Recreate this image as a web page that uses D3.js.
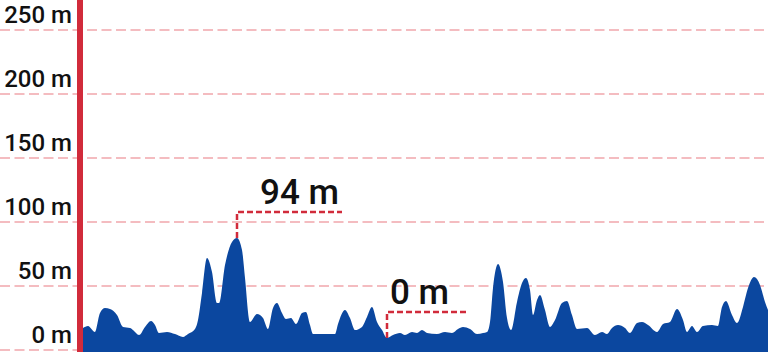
<!DOCTYPE html>
<html>
<head>
<meta charset="utf-8">
<script src="https://cdn.jsdelivr.net/npm/d3@7"></script>
<style>
  body { margin: 0; background: #fff; }
  svg { display: block; font-family: Roboto, "Noto Sans", sans-serif; }
</style>
</head>
<body>
<svg id="profile" width="768" height="352"></svg>
<script>
// distance along route (km) and elevation (m)
var distance = [0, 0.5, 1.2, 1.7, 2.2, 2.7, 3.4, 4.0, 4.7, 5.0, 5.6, 6.2, 6.8, 7.2, 7.6, 8.4, 9.2, 10.0, 10.5, 11.2,
  11.5, 11.9, 12.4, 12.9, 13.4, 13.6, 14.2, 14.9, 15.4, 15.9, 16.2, 16.7, 17.4, 18.0, 18.5, 19.0, 19.4, 19.9, 20.3, 20.8,
  21.3, 21.9, 22.3, 22.7, 23.0, 24.4, 25.2, 25.5, 26.2, 26.7, 27.2, 27.9, 28.4, 28.9, 29.4, 29.9, 30.4, 31.0, 31.7, 32.2,
  32.9, 33.4, 33.9, 34.4, 35.4, 36.2, 36.9, 37.5, 38.0, 38.7, 39.4, 40.0, 40.4, 40.7, 41.0, 41.5, 42.0, 42.4, 42.8, 43.4,
  43.9, 44.3, 44.7, 45.0, 45.4, 45.7, 46.2, 46.7, 47.2, 47.9, 48.4, 48.9, 49.4, 50.4, 51.2, 51.9, 52.4, 52.9, 53.5, 54.2,
  54.7, 55.4, 55.9, 56.5, 57.4, 58.0, 58.7, 59.4, 60.0, 60.4, 60.9, 61.4, 62.0, 62.9, 63.5, 63.9, 64.3, 64.9, 65.4, 66.0,
  66.5, 67.1, 67.7, 68.2, 68.5];
var elevation = [17.2, 18.8, 14.1, 28.9, 32.8, 32.0, 27.3, 18.0, 17.2, 15.6, 11.7, 18.0, 22.7, 19.5, 13.3, 14.1, 12.5, 10.2, 12.5, 16.4,
  23.4, 44.5, 71.9, 60.9, 36.7, 36.7, 66.4, 84.4, 87.5, 78.1, 56.3, 21.9, 28.1, 25.0, 16.4, 32.8, 36.7, 28.9, 24.2, 25.0,
  20.3, 28.9, 29.7, 19.5, 12.5, 12.5, 12.5, 20.3, 31.3, 25.0, 15.6, 18.0, 25.8, 33.6, 21.9, 15.6, 9.4, 11.7, 13.3, 11.7,
  14.1, 13.3, 15.6, 13.3, 12.5, 14.1, 13.3, 16.4, 18.0, 16.4, 12.5, 13.3, 14.1, 21.9, 48.4, 67.2, 53.1, 25.0, 15.6, 37.5,
  52.3, 56.3, 46.9, 27.3, 39.1, 43.0, 31.3, 18.0, 23.4, 36.7, 38.3, 27.3, 16.4, 17.2, 11.7, 14.1, 12.5, 17.2, 19.5, 17.2,
  13.3, 21.1, 21.9, 19.5, 14.1, 20.3, 21.9, 32.0, 23.4, 14.1, 18.8, 14.1, 18.8, 19.5, 18.8, 33.6, 38.3, 27.3, 21.1, 33.6,
  48.4, 57.0, 50.8, 37.5, 31.3];
var yTicks = [0, 50, 100, 150, 200, 250];
var markLabels = ["94 m", "0 m"];

var width = 768, height = 352;
var svg = d3.select("#profile");

var data = distance.map(function(d, i) { return { d: d, e: elevation[i] }; });

var x = d3.scaleLinear().domain([0, d3.max(distance)]).range([83, width]);
var y = d3.scaleLinear().domain([0, 250]).range([350, 30]);

// grid
svg.append("g").selectAll("line")
    .data(yTicks)
    .enter().append("line")
      .attr("x1", 0).attr("x2", width)
      .attr("y1", function(d) { return y(d); })
      .attr("y2", function(d) { return y(d); })
      .style("stroke", "#f4bcc0")
      .style("stroke-width", "2px")
      .style("stroke-dasharray", "10,4.5");

svg.append("g").selectAll("text")
    .data(yTicks)
    .enter().append("text")
      .attr("x", 72)
      .attr("y", function(d) { return y(d) - 7; })
      .attr("text-anchor", "end")
      .style("font-size", "24px")
      .style("font-weight", "500")
      .style("fill", "#111")
      .text(function(d) { return d + " m"; });

var area = d3.area()
    .x(function(d) { return x(d.d); })
    .y0(height)
    .y1(function(d) { return y(d.e); })
    .curve(d3.curveMonotoneX);

svg.append("path")
    .datum(data)
    .style("fill", "#0b479f")
    .attr("d", area);

// axis line
svg.append("line")
    .attr("x1", 80).attr("x2", 80)
    .attr("y1", 0).attr("y2", height)
    .style("stroke", "#d12b3b")
    .style("stroke-width", "6px");

// max / min markers
var iMax = d3.maxIndex(elevation), iMin = d3.minIndex(elevation);
var marks = [
  { i: iMax, label: markLabels[0], len: 105, dx: 23 },
  { i: iMin, label: markLabels[1], len: 80, dx: 3 }
];

var mk = svg.append("g").selectAll("g")
    .data(marks)
    .enter().append("g");

mk.append("path")
    .style("stroke", "#d12b3b")
    .style("fill", "none")
    .style("stroke-width", "2.5px")
    .style("stroke-dasharray", "6,3")
    .attr("d", function(m) {
      var px = x(distance[m.i]), py = y(elevation[m.i]);
      return "M" + px + "," + py + "V" + (py - 26) + "H" + (px + m.len);
    });

mk.append("text")
    .attr("x", function(m) { return x(distance[m.i]) + m.dx; })
    .attr("y", function(m) { return y(elevation[m.i]) - 34; })
    .style("font-size", "35px")
    .style("font-weight", "500")
    .style("fill", "#111")
    .text(function(m) { return m.label; });
</script>
</body>
</html>
